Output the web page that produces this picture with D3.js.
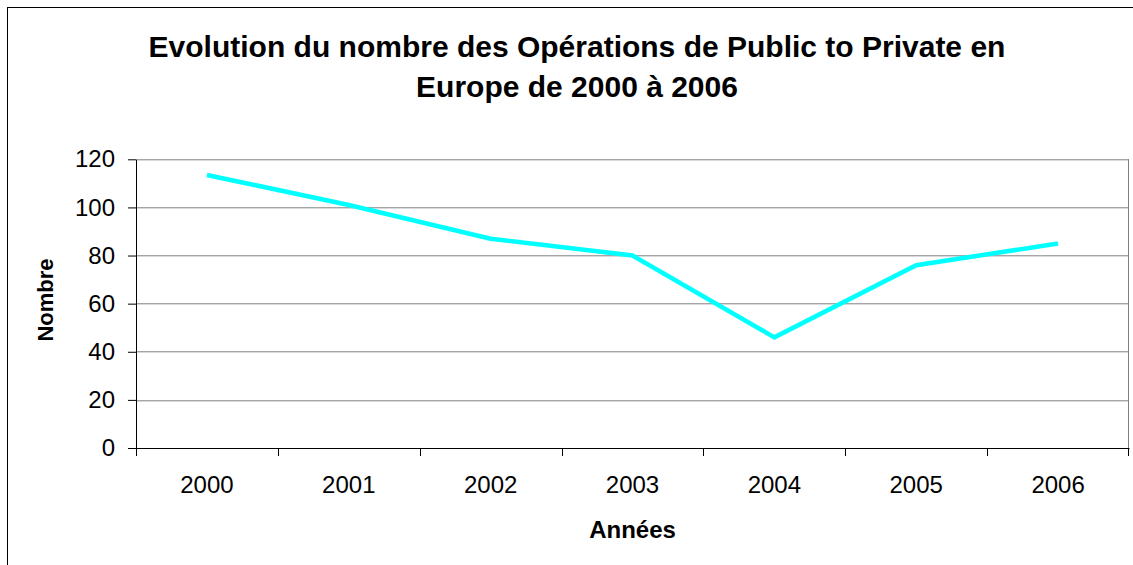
<!DOCTYPE html>
<html>
<head>
<meta charset="utf-8">
<script src="https://cdn.jsdelivr.net/npm/d3@7"></script>
<style>
  body { margin: 0; background: #fff; }
  text { font-family: "Liberation Sans", Arial, sans-serif; }
</style>
</head>
<body>
<div id="chart-area"></div>
<script>
// data
var years = ["2000", "2001", "2002", "2003", "2004", "2005", "2006"];
var nombre = [113.5, 101, 87, 80, 46, 76, 85];
var yTicks = [0, 20, 40, 60, 80, 100, 120];
var titleLines = ["Evolution du nombre des Opérations de Public to Private en", "Europe de 2000 à 2006"];

var W = 1133, H = 565;
var margin = {top: 159.3, bottom: 565 - 448, left: 136, right: 1133 - 1129};
var width = W - margin.left - margin.right;
var height = H - margin.top - margin.bottom;

var svg = d3.select("#chart-area")
  .append("svg")
  .attr("width", W)
  .attr("height", H);

// outer chart frame
svg.append("rect")
  .attr("x", 7.5).attr("y", 7.5)
  .attr("width", 1140).attr("height", 570)
  .attr("fill", "#fff")
  .attr("stroke", "#000")
  .attr("stroke-width", 1);

var title = svg.append("text")
  .attr("text-anchor", "middle")
  .attr("font-size", "30px")
  .attr("font-weight", "bold")
  .attr("fill", "#000");
titleLines.forEach(function(t, i) {
  title.append("tspan")
    .attr("x", 577)
    .attr("y", 57 + i * 40)
    .text(t);
});

var g = svg.append("g")
  .attr("transform", "translate(" + margin.left + "," + margin.top + ")");

var x = d3.scaleBand()
  .domain(years)
  .range([0, width])
  .padding(0);

var y = d3.scaleLinear()
  .domain([0, 120])
  .range([height, 0]);

// gridlines
g.append("g")
  .selectAll("line")
  .data(yTicks.filter(function(d) { return d > 0; }))
  .enter()
  .append("line")
  .attr("x1", 0).attr("x2", width)
  .attr("y1", function(d) { return Math.round(y(d)) + 0.5; })
  .attr("y2", function(d) { return Math.round(y(d)) + 0.5; })
  .attr("stroke", "#808080")
  .attr("stroke-width", 1);

// right border of plot area
g.append("line")
  .attr("x1", width - 0.5).attr("x2", width - 0.5)
  .attr("y1", y(120)).attr("y2", y(0))
  .attr("stroke", "#808080");

// y axis
var yAxis = g.append("g")
  .call(d3.axisLeft(y).tickValues(yTicks).tickSize(8).tickSizeOuter(0).tickPadding(13));
yAxis.select(".domain").attr("stroke", "#000");
yAxis.selectAll(".tick line").attr("stroke", "#000");
yAxis.selectAll("text")
  .attr("font-size", "24px")
  .attr("font-family", "'Liberation Sans', Arial, sans-serif")
  .attr("fill", "#000");

// x axis: labels centred on bands, ticks between categories
var xAxis = g.append("g")
  .attr("transform", "translate(0," + height + ")")
  .call(d3.axisBottom(x).tickSize(0).tickPadding(28));
xAxis.select(".domain").attr("stroke", "#000");
xAxis.selectAll("text")
  .attr("font-size", "24px")
  .attr("font-family", "'Liberation Sans', Arial, sans-serif")
  .attr("fill", "#000");

xAxis.selectAll(".sep")
  .data(years.concat(["end"]))
  .enter()
  .append("line")
  .attr("class", "sep")
  .attr("x1", function(d) { return d === "end" ? width - 0.5 : Math.round(x(d)) + 0.5; })
  .attr("x2", function(d) { return d === "end" ? width - 0.5 : Math.round(x(d)) + 0.5; })
  .attr("y1", 0).attr("y2", 8)
  .attr("stroke", "#000");

// the line
var line = d3.line()
  .x(function(d, i) { return x(years[i]) + x.bandwidth() / 2; })
  .y(function(d) { return y(d); });

g.append("path")
  .datum(nombre)
  .attr("d", line)
  .attr("fill", "none")
  .attr("stroke", "#00FFFF")
  .attr("stroke-width", 4.5)
  .attr("stroke-linejoin", "miter");

// axis titles
svg.append("text")
  .attr("x", margin.left + width / 2)
  .attr("y", 538)
  .attr("text-anchor", "middle")
  .attr("font-size", "24px")
  .attr("font-weight", "bold")
  .text("Années");

svg.append("text")
  .attr("transform", "translate(53,300) rotate(-90)")
  .attr("text-anchor", "middle")
  .attr("font-size", "22px")
  .attr("font-weight", "bold")
  .text("Nombre");
</script>
</body>
</html>
